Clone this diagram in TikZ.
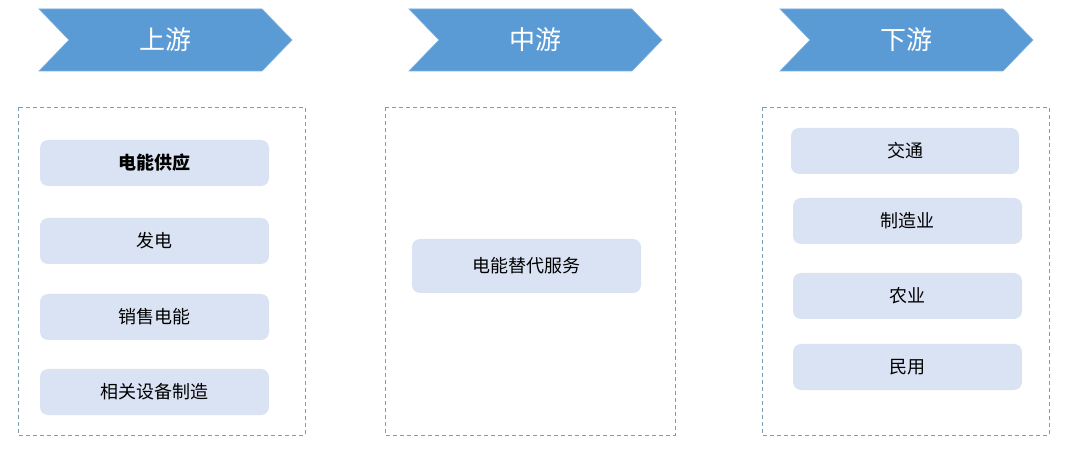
\documentclass[tikz,border=0pt]{standalone}
\usepackage{fontspec}
\setmainfont{Noto Sans CJK SC}
\definecolor{chev}{HTML}{5B9BD5}
\definecolor{boxfill}{HTML}{DAE3F3}
\definecolor{dashc}{HTML}{7B9DB0}
\tikzset{
  chevshape/.style={fill=chev, draw=chev!80!white, line width=0.6pt},
  groupbox/.style={draw=dashc, dash pattern=on 4pt off 3pt, line width=0.8pt},
  itembox/.style={fill=boxfill, draw=none, rounded corners=8pt, minimum height=46pt, minimum width=229pt, inner sep=0pt, font=\fontsize{18pt}{22pt}\selectfont, text=black},
  chevtext/.style={text=white, font=\fontsize{26pt}{30pt}\selectfont}
}
\begin{document}
\begin{tikzpicture}[x=1pt,y=-1pt]
\useasboundingbox (0,0) rectangle (1066,454);
% chevrons
\foreach \x/\t/\n in {39/上游/c1, 409/中游/c2, 780/下游/c3}{
  \fill[chevshape] (\x,9) -- ++(223,0) -- ++(30,31) -- ++(-30,31) -- ++(-223,0) -- ++(30,-31) -- cycle;
  \node[chevtext] (\n) at ({\x+126.5},40) {\t};
}
% group boxes
\draw[groupbox] (18,107) rectangle (305,435);
\draw[groupbox] (385,107) rectangle (675,435);
\draw[groupbox] (762,107) rectangle (1049,435);
% left items
\node[itembox, font=\fontsize{18pt}{22pt}\selectfont\bfseries] (a1) at (154.5,163) {电能供应};
\node[itembox] (a2) at (154.5,241) {发电};
\node[itembox] (a3) at (154.5,317) {销售电能};
\node[itembox] (a4) at (154.5,392) {相关设备制造};
% middle
\node[itembox, minimum height=54pt] (b1) at (526.5,266) {电能替代服务};
% right
\node[itembox, minimum width=228pt] (d1) at (905,151) {交通};
\node[itembox] (d2) at (907.5,221) {制造业};
\node[itembox] (d3) at (907.5,296) {农业};
\node[itembox] (d4) at (907.5,367) {民用};
\end{tikzpicture}
\end{document}
